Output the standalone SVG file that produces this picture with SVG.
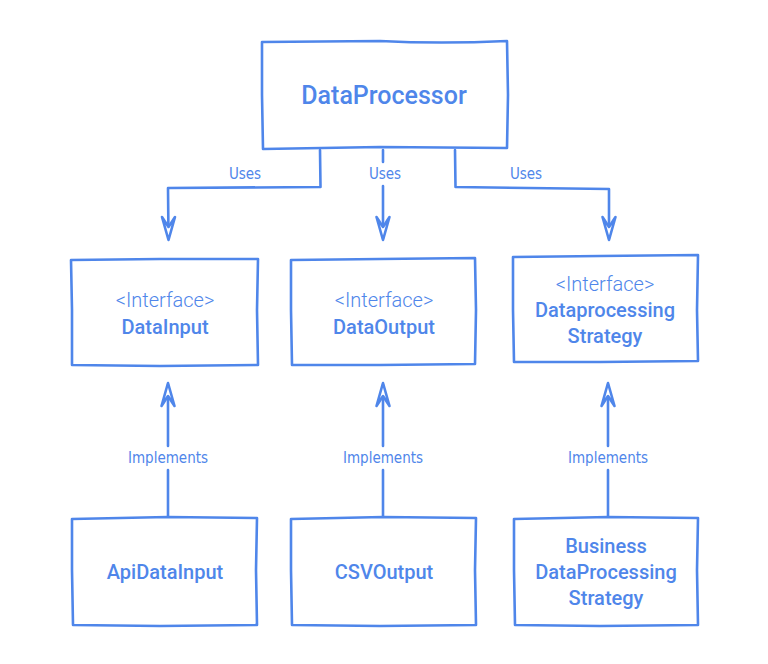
<svg xmlns="http://www.w3.org/2000/svg" width="768" height="664" viewBox="0 0 768 664">
<style>
.box{fill:#fff;stroke:#4f86ea;stroke-width:2.6;stroke-linejoin:round}
.t{font-family:Roboto,"Liberation Sans",sans-serif;fill:#4f86ea;text-anchor:middle}
.b{font-weight:500;font-size:20px}
.r{font-size:20px;font-weight:300}
.lbl{font-family:"DejaVu Sans Condensed","Liberation Sans Narrow",sans-serif;font-size:15px;fill:#4f86ea;text-anchor:middle}
.ln{fill:none;stroke:#4f86ea;stroke-width:2.6;stroke-linejoin:round;stroke-linecap:round}
</style>
<defs>
<path id="ah" d="M0,0 L-6.5,-23 L0,-13 L6.5,-23 Z" fill="#fff" stroke="#4f86ea" stroke-width="2.6" stroke-linejoin="round"/>
</defs>
<rect width="768" height="664" fill="#fff"/>
<g id="connectors">
  <path class="ln" d="M320,150 L320.5,187 L168,188 L168.5,238"/>
  <path class="ln" d="M383,150 L383,162 M383,186 L383,238"/>
  <path class="ln" d="M455,150 L455.5,187 L609,189 L609,238"/>
  <use href="#ah" transform="translate(168.5,240)"/>
  <use href="#ah" transform="translate(383,240)"/>
  <use href="#ah" transform="translate(609,240)"/>
  <path class="ln" d="M168,517 L168,470 M168,446 L168,385"/>
  <path class="ln" d="M383,517 L383,470 M383,446 L383,385"/>
  <path class="ln" d="M608,517 L608,470 M608,446 L608,385"/>
  <use href="#ah" transform="translate(168,383) rotate(180)"/>
  <use href="#ah" transform="translate(383,383) rotate(180)"/>
  <use href="#ah" transform="translate(608,383) rotate(180)"/>
  <text class="lbl" x="245" y="179">Uses</text>
  <text class="lbl" x="385" y="179">Uses</text>
  <text class="lbl" x="526" y="179">Uses</text>
  <text class="lbl" x="168" y="463">Implements</text>
  <text class="lbl" x="383" y="463">Implements</text>
  <text class="lbl" x="608" y="463">Implements</text>
</g>
<g id="DataProcessor">
  <path class="box" d="M262,42 L380,41 Q440,44 507,41 L508,95 L507,148 L380,147 L263,149 L262,95 Z"/>
  <text class="t" x="384" y="104" font-size="25" font-weight="500">DataProcessor</text>
</g>
<g id="DataInput">
  <path class="box" d="M71,260 L160,259 L258,259 L257,310 L258,365 L160,366 L72,365 L72,310 Z"/>
  <text class="t r" x="165" y="307">&lt;Interface&gt;</text>
  <text class="t b" x="165" y="334">DataInput</text>
</g>
<g id="DataOutput">
  <path class="box" d="M291,260 L380,259 L475,258 L476,310 L475,364 L380,365 L292,365 L291,310 Z"/>
  <text class="t r" x="384" y="307">&lt;Interface&gt;</text>
  <text class="t b" x="384" y="334">DataOutput</text>
</g>
<g id="DataprocessingStrategy">
  <path class="box" d="M513,257 L600,256 L698,255 L697,310 L698,361 L600,362 L514,362 L513,310 Z"/>
  <text class="t r" x="605" y="291">&lt;Interface&gt;</text>
  <text class="t b" x="605" y="317">Dataprocessing</text>
  <text class="t b" x="605" y="343">Strategy</text>
</g>
<g id="ApiDataInput">
  <path class="box" d="M72,519 L168,517 L257,518 L256,570 L257,625 L160,626 L73,625 L72,570 Z"/>
  <text class="t b" x="165" y="579">ApiDataInput</text>
</g>
<g id="CSVOutput">
  <path class="box" d="M291,519 L383,517 L476,518 L475,570 L476,625 L380,626 L292,625 L291,570 Z"/>
  <text class="t b" x="384" y="579">CSVOutput</text>
</g>
<g id="BusinessDataProcessingStrategy">
  <path class="box" d="M514,519 L608,517 L698,518 L697,570 L698,625 L600,626 L515,625 L514,570 Z"/>
  <text class="t b" x="606" y="553">Business</text>
  <text class="t b" x="606" y="579">DataProcessing</text>
  <text class="t b" x="606" y="605">Strategy</text>
</g>
</svg>
